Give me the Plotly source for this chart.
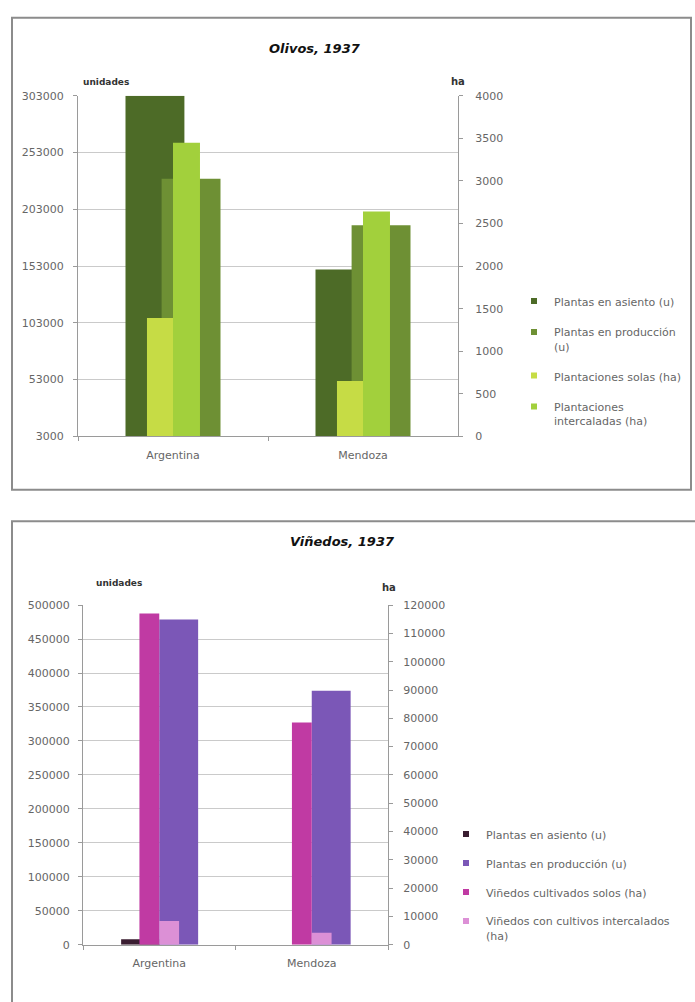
import plotly.graph_objects as go

W, H = 695, 1002


def fx(p):
    return p / W


def fy(p):
    return 1 - p / H


# ---------------- data ----------------
categories = ["Argentina", "Mendoza"]

# Olivos, 1937
oliv_asiento_u = [303000, 150000]
oliv_produccion_u = [230000, 189000]
oliv_solas_ha = [1390, 650]
oliv_intercaladas_ha = [3450, 2640]

# Viñedos, 1937
vin_asiento_u = [8000, 0]
vin_produccion_u = [479000, 374000]
vin_solos_ha = [117000, 78500]
vin_intercalados_ha = [8400, 4200]

oliv_left_ticks = list(range(3000, 303001, 50000))
oliv_right_ticks = list(range(0, 4001, 500))
vin_left_ticks = list(range(0, 500001, 50000))
vin_right_ticks = list(range(0, 120001, 10000))

oliv_names = ["Plantas en asiento (u)", "Plantas en producción<br>(u)",
              "Plantaciones solas (ha)", "Plantaciones<br>intercaladas (ha)"]
vin_names = ["Plantas en asiento (u)", "Plantas en producción (u)",
             "Viñedos cultivados solos (ha)", "Viñedos con cultivos intercalados<br>(ha)"]

# ---------------- styles ----------------
OLIV_COLORS = ["#4d6b27", "#6e9034", "#c6dc45", "#a2d03c"]
VIN_COLORS = ["#3a1d31", "#7b57b7", "#c03aa3", "#dc90d6"]
FONT = "DejaVu Sans"
TXT = "#666666"
AX = "#9a9a9a"
GRID = "#cacaca"

fig = go.Figure()

# top chart bars
top_specs = [
    (oliv_asiento_u, "y", OLIV_COLORS[0], -0.25, 0.31),
    (oliv_produccion_u, "y", OLIV_COLORS[1], -0.06, 0.31),
    (oliv_solas_ha, "y2", OLIV_COLORS[2], -0.137, 0.137),
    (oliv_intercaladas_ha, "y2", OLIV_COLORS[3], 0.0, 0.142),
]
for vals, yax, col, off, wid in top_specs:
    fig.add_trace(go.Bar(x=categories, y=vals, xaxis="x", yaxis=yax,
                         offset=off, width=wid, marker=dict(color=col, line=dict(width=0)),
                         showlegend=False, hoverinfo="x+y"))

# bottom chart bars
bot_specs = [
    (vin_asiento_u, "y3", VIN_COLORS[0], -0.25, 0.255),
    (vin_produccion_u, "y3", VIN_COLORS[1], 0.0, 0.255),
    (vin_solos_ha, "y4", VIN_COLORS[2], -0.13, 0.13),
    (vin_intercalados_ha, "y4", VIN_COLORS[3], 0.0, 0.13),
]
for vals, yax, col, off, wid in bot_specs:
    fig.add_trace(go.Bar(x=categories, y=vals, xaxis="x2", yaxis=yax,
                         offset=off, width=wid, marker=dict(color=col, line=dict(width=0)),
                         showlegend=False, hoverinfo="x+y"))

# legend entries (small square symbols)
for i, (nm, col) in enumerate(zip(oliv_names, OLIV_COLORS)):
    fig.add_trace(go.Scatter(x=[None], y=[None], xaxis="x", yaxis="y", mode="markers",
                             marker=dict(symbol="square", size=6, color=col),
                             name=nm, legend="legend", legendgroup="o%d" % i))
for i, (nm, col) in enumerate(zip(vin_names, VIN_COLORS)):
    fig.add_trace(go.Scatter(x=[None], y=[None], xaxis="x2", yaxis="y3", mode="markers",
                             marker=dict(symbol="square", size=6, color=col),
                             name=nm, legend="legend2", legendgroup="v%d" % i))

tick_font = dict(family=FONT, size=11, color=TXT)

common_y = dict(showline=True, linecolor=AX, linewidth=1, ticks="outside", ticklen=4,
                tickcolor=AX, tickfont=tick_font, zeroline=False, fixedrange=True,
                tickformat="d")
common_x = dict(type="category", showline=True, linecolor=AX, linewidth=1, ticks="outside",
                tickson="boundaries", ticklen=4, tickcolor=AX, tickfont=tick_font,
                showgrid=False, range=[-0.5, 1.5], fixedrange=True, ticklabelstandoff=8)

fig.update_layout(
    width=W, height=H, margin=dict(l=0, r=0, t=0, b=0),
    paper_bgcolor="white", plot_bgcolor="white",
    barmode="overlay",
    font=dict(family=FONT, color=TXT),
    xaxis=dict(domain=[fx(78), fx(458)], anchor="y", **common_x),
    yaxis=dict(domain=[fy(436), fy(91)], anchor="x", range=[3000, 303000],
               tickvals=oliv_left_ticks, showgrid=True, gridcolor=GRID,
               ticklabelstandoff=7, **common_y),
    yaxis2=dict(overlaying="y", anchor="x", side="right", range=[0, 4000],
                tickvals=oliv_right_ticks, showgrid=False, ticklabelstandoff=10, **common_y),
    xaxis2=dict(domain=[fx(83), fx(388)], anchor="y3", **common_x),
    yaxis3=dict(domain=[fy(951), fy(607)], anchor="x2", range=[0, 500000],
                tickvals=vin_left_ticks, showgrid=True, gridcolor=GRID,
                ticklabelstandoff=6, **common_y),
    yaxis4=dict(overlaying="y3", anchor="x2", side="right", range=[0, 120000],
                tickvals=vin_right_ticks, showgrid=False, ticklabelstandoff=8, **common_y),
    legend=dict(x=fx(514), y=fy(285), xanchor="left", yanchor="top",
                font=dict(family=FONT, size=11, color=TXT), bgcolor="rgba(0,0,0,0)",
                tracegroupgap=12, valign="top", itemclick=False),
    legend2=dict(x=fx(446), y=fy(825), xanchor="left", yanchor="top",
                 font=dict(family=FONT, size=11, color=TXT), bgcolor="rgba(0,0,0,0)",
                 tracegroupgap=10, valign="top", itemclick=False),
    shapes=[
        dict(type="rect", xref="paper", yref="paper", x0=fx(12), x1=fx(691),
             y0=fy(490), y1=fy(12), line=dict(color="#8c8c8c", width=2), layer="below"),
        dict(type="rect", xref="paper", yref="paper", x0=fx(12), x1=fx(712),
             y0=fy(1025), y1=fy(522), line=dict(color="#8c8c8c", width=2), layer="below"),
    ],
    annotations=[
        dict(text="<b><i>Olivos, 1937</i></b>", x=fx(315), y=fy(33), xref="paper", yref="paper",
             showarrow=False, font=dict(family=FONT, size=13, color="#111111")),
        dict(text="<b><i>Viñedos, 1937</i></b>", x=fx(342), y=fy(543), xref="paper", yref="paper",
             showarrow=False, font=dict(family=FONT, size=13, color="#111111")),
        dict(text="<b>unidades</b>", x=fx(81), y=fy(70), xref="paper", yref="paper",
             showarrow=False, font=dict(family=FONT, size=9, color="#333333")),
        dict(text="<b>ha</b>", x=fx(458), y=fy(69), xref="paper", yref="paper",
             showarrow=False, font=dict(family=FONT, size=10, color="#333333")),
        dict(text="<b>unidades</b>", x=fx(94), y=fy(585), xref="paper", yref="paper",
             showarrow=False, font=dict(family=FONT, size=9, color="#333333")),
        dict(text="<b>ha</b>", x=fx(389), y=fy(589), xref="paper", yref="paper",
             showarrow=False, font=dict(family=FONT, size=10, color="#333333")),
    ],
)

fig.write_html("out.html", config={"displayModeBar": False, "staticPlot": True},
               post_script="document.body.style.margin='0';document.body.style.overflow='hidden';")
